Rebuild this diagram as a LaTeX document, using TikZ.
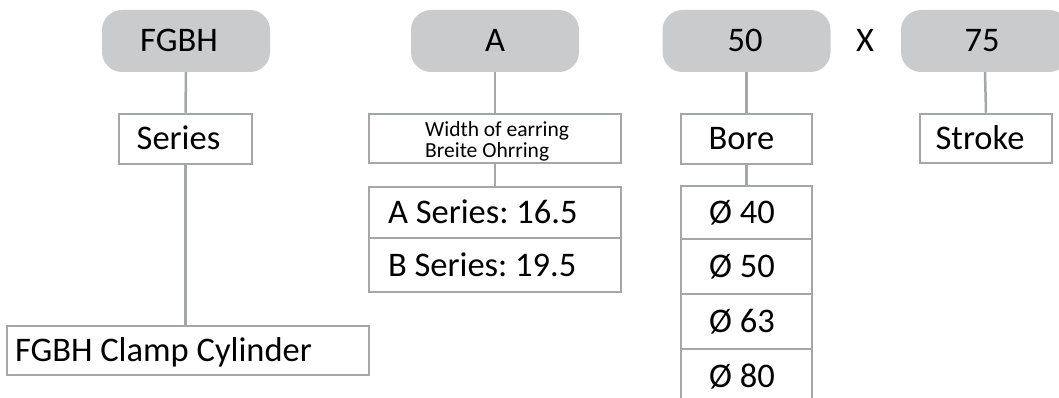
\documentclass[tikz,border=0pt]{standalone}
\usepackage{fontspec}
\setmainfont{Carlito}
\frenchspacing
\definecolor{lnc}{HTML}{A4A7AA}
\definecolor{pillc}{HTML}{C9CBCC}
\newcommand{\mainfs}{\fontsize{34.5}{37}\selectfont\frenchspacing}
\newcommand{\smallfs}{\fontsize{21.5}{21}\selectfont\frenchspacing}
\newcommand{\nsp}{\spaceskip=0pt\xspaceskip=0pt\relax}
\begin{document}
\begin{tikzpicture}[x=1pt,y=-1pt,
  pill/.style={fill=pillc, rounded corners=20pt, minimum width=168pt, minimum height=62pt,
    inner sep=0pt, font=\mainfs, text height=22pt, text depth=0pt},
  frame/.style={draw=lnc, line width=2.5pt, inner sep=0pt},
  box/.style={frame, font=\mainfs, text height=22pt, text depth=0pt},
  conn/.style={draw=lnc, line width=2.5pt}]
\useasboundingbox (0,0) rectangle (1059,398);
\clip (0,0) rectangle (1059,398);
% top pills
\node[pill] (p1) at (186,41) {\hspace*{-14pt}FGBH};
\node[pill] (p2) at (495,41) {A};
\node[pill] (p3) at (746.5,41) {\hspace*{-3pt}50};
\node[pill] (p4) at (985,41) {\hspace*{-6pt}75};
\node[font=\mainfs, text height=22pt, text depth=0pt, inner sep=0pt] (x) at (865,41) {X};
% column 1
\node[box, minimum width=133pt, minimum height=50pt] (series) at (185.5,139) {\hspace*{-14pt}Series};
\node[box, minimum width=362pt, minimum height=49pt, text width=346pt, inner xsep=8pt, align=left] (clamp) at (188,350.5) {\nsp FGBH Clamp Cylinder};
% column 2
\node[frame, minimum width=252pt, minimum height=49pt] (width) at (495,138.5) {};
\node[font=\smallfs, anchor=base west, inner sep=0pt] (w1) at (425,137) {Width of earring};
\node[font=\smallfs, anchor=base west, inner sep=0pt] (w2) at (425,158) {Breite Ohrring};
\node[box, minimum width=252pt, minimum height=51pt, text width=214pt, inner xsep=19pt, align=left] (aser) at (495,212.5) {\nsp A Series: 16.5};
\node[box, minimum width=252pt, minimum height=54pt, text width=214pt, inner xsep=19pt, align=left] (bser) at (495,265) {\nsp B Series: 19.5};
% column 3
\node[box, minimum width=131pt, minimum height=50pt] (bore) at (746.5,139) {\hspace*{-10pt}Bore};
\node[box, minimum width=131pt, minimum height=53pt] (d40) at (746.5,212.5) {\hspace*{-9pt}Ø 40};
\node[box, minimum width=131pt, minimum height=55pt] (d50) at (746.5,266.5) {\hspace*{-9pt}Ø 50};
\node[box, minimum width=131pt, minimum height=55pt] (d63) at (746.5,321.5) {\hspace*{-9pt}Ø 63};
\node[box, minimum width=131pt, minimum height=54pt] (d80) at (746.5,376) {\hspace*{-9pt}Ø 80};
% column 4
\node[box, minimum width=132pt, minimum height=49pt] (stroke) at (986,138.5) {\hspace*{-12pt}Stroke};
% connectors
\draw[conn] (p1.south) -- (series.north);
\draw[conn] (series.south) -- (series.south |- clamp.north);
\draw[conn] (p2.south) -- (width.north);
\draw[conn] (width.south) -- (aser.north);
\draw[conn] (p3.south) -- (bore.north);
\draw[conn] (bore.south) -- (d40.north);
\draw[conn] (p4.south) -- (stroke.north);
\end{tikzpicture}
\end{document}
